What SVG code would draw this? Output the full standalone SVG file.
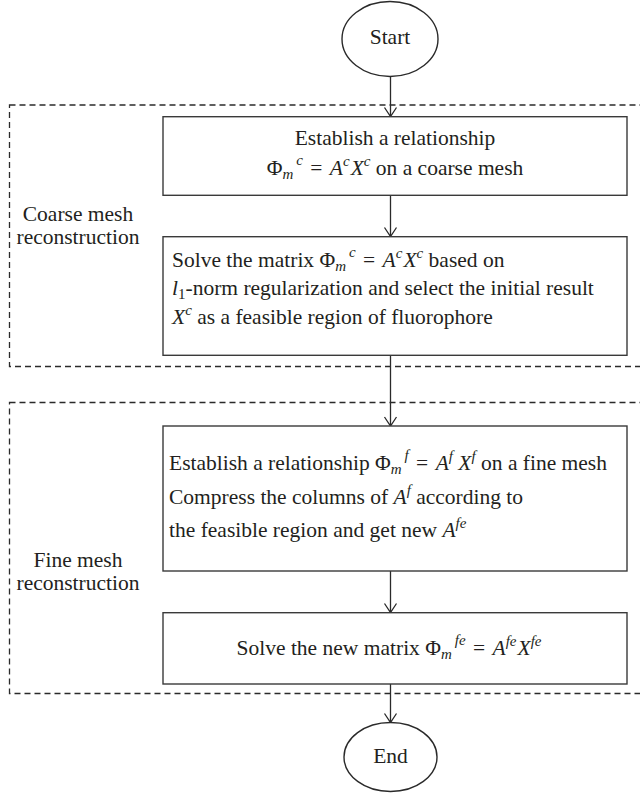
<svg xmlns="http://www.w3.org/2000/svg" width="640" height="795" viewBox="0 0 640 795">
<style>
.t{font-family:"Liberation Serif","Times New Roman",serif;font-size:21.5px;fill:#231f20}
.i{font-style:italic}
.s{font-size:15px}
.box{fill:#fff;stroke:#3a3a3a;stroke-width:1.4}
.ov{fill:#fff;stroke:#2a2a2a;stroke-width:1.4}
.dash{fill:none;stroke:#2a2a2a;stroke-width:1.3;stroke-dasharray:6 4}
.con{fill:none;stroke:#2a2a2a;stroke-width:1.3}
</style>
<rect width="640" height="795" fill="#fff"/>
<g id="regions">
<rect class="dash" x="9.5" y="105" width="640" height="261.5"/>
<rect class="dash" x="9.5" y="402.5" width="640" height="291"/>
<text class="t" x="78" y="221" text-anchor="middle">Coarse mesh</text>
<text class="t" x="78" y="244" text-anchor="middle">reconstruction</text>
<text class="t" x="78" y="567" text-anchor="middle">Fine mesh</text>
<text class="t" x="78" y="590" text-anchor="middle">reconstruction</text>
</g>
<g id="connectors">
<path class="con" d="M390.5,76 V116.5 M384.5,107.5 L390.5,116.5 L396.5,107.5"/>
<path class="con" d="M390.5,195.5 V236.5 M384.5,227.5 L390.5,236.5 L396.5,227.5"/>
<path class="con" d="M390.5,355.5 V426 M384.5,417 L390.5,426 L396.5,417"/>
<path class="con" d="M390.5,571 V612.5 M384.5,603.5 L390.5,612.5 L396.5,603.5"/>
<path class="con" d="M390.5,684 V722.5 M384.5,713.5 L390.5,722.5 L396.5,713.5"/>
</g>
<g id="start">
<ellipse class="ov" cx="390" cy="39" rx="48" ry="37.5"/>
<text class="t" x="390" y="44" text-anchor="middle">Start</text>
</g>
<g id="box1">
<rect class="box" x="163" y="116.7" width="464" height="78.6"/>
<text class="t" x="395" y="145" text-anchor="middle">Establish a relationship</text>
<text class="t" x="395" y="175" text-anchor="middle">Φ<tspan class="i s" dy="4">m</tspan><tspan class="i s" dy="-14" dx="3">c</tspan><tspan dy="10" dx="2"> = </tspan><tspan class="i" dx="2">A</tspan><tspan class="i s" dy="-9">c</tspan><tspan class="i" dy="9" dx="1">X</tspan><tspan class="i s" dy="-9">c</tspan><tspan dy="9"> on a coarse mesh</tspan></text>
</g>
<g id="box2">
<rect class="box" x="163" y="236.7" width="464" height="118.6"/>
<text class="t" x="172" y="266.5">Solve the matrix Φ<tspan class="i s" dy="4">m</tspan><tspan class="i s" dy="-14" dx="3">c</tspan><tspan dy="10" dx="2"> = </tspan><tspan class="i" dx="2">A</tspan><tspan class="i s" dy="-9">c</tspan><tspan class="i" dy="9" dx="1">X</tspan><tspan class="i s" dy="-9">c</tspan><tspan dy="9"> based on</tspan></text>
<text class="t" x="172" y="295"><tspan class="i">l</tspan><tspan class="s" dy="4">1</tspan><tspan dy="-4">-norm regularization and select the initial result</tspan></text>
<text class="t" x="172" y="323.5"><tspan class="i">X</tspan><tspan class="i s" dy="-9">c</tspan><tspan dy="9"> as a feasible region of fluorophore</tspan></text>
</g>
<g id="box3">
<rect class="box" x="163" y="426" width="464" height="145"/>
<text class="t" x="169" y="470">Establish a relationship Φ<tspan class="i s" dy="4">m</tspan><tspan class="i s" dy="-14" dx="3">f</tspan><tspan dy="10" dx="2"> = </tspan><tspan class="i" dx="2">A</tspan><tspan class="i s" dy="-9">f</tspan><tspan class="i" dy="9"> X</tspan><tspan class="i s" dy="-9">f</tspan><tspan dy="9"> on a fine mesh</tspan></text>
<text class="t" x="169" y="503.5">Compress the columns of <tspan class="i">A</tspan><tspan class="i s" dy="-9">f</tspan><tspan dy="9"> according to</tspan></text>
<text class="t" x="169" y="537">the feasible region and get new <tspan class="i">A</tspan><tspan class="i s" dy="-9">fe</tspan></text>
</g>
<g id="box4">
<rect class="box" x="163" y="612.7" width="464" height="71.3"/>
<text class="t" x="389" y="655" text-anchor="middle">Solve the new matrix Φ<tspan class="i s" dy="4">m</tspan><tspan class="i s" dy="-14" dx="3">fe</tspan><tspan dy="10" dx="2"> = </tspan><tspan class="i" dx="2">A</tspan><tspan class="i s" dy="-9">fe</tspan><tspan class="i" dy="9" dx="1">X</tspan><tspan class="i s" dy="-9">fe</tspan></text>
</g>
<g id="end">
<ellipse class="ov" cx="390.5" cy="757" rx="46.5" ry="34.5"/>
<text class="t" x="390.5" y="762.5" text-anchor="middle">End</text>
</g>
</svg>
